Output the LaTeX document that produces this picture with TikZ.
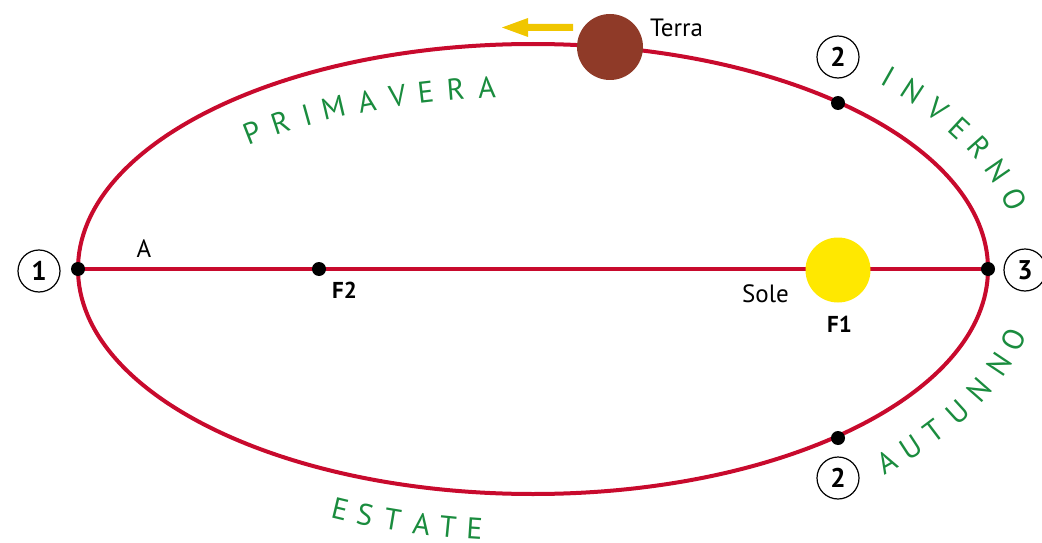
\documentclass[tikz,border=0pt]{standalone}
\usepackage{fontspec}
\setmainfont{PT Sans}
\definecolor{orbitred}{RGB}{200,10,45}
\definecolor{seasongreen}{RGB}{26,140,62}
\definecolor{earthbrown}{RGB}{143,58,40}
\definecolor{sunyellow}{RGB}{255,232,0}
\definecolor{arrowyellow}{RGB}{240,198,0}
\tikzset{
  orbit/.style={draw=orbitred, line width=4pt},
  orbitdot/.style={circle, fill=black, inner sep=0pt, minimum size=14pt},
  numc/.style={circle, draw=black, line width=1.2pt, minimum size=42pt, inner sep=0pt, font=\fontsize{27}{27}\selectfont\bfseries},
  season/.style={text=seasongreen, inner sep=0pt, font=\fontsize{30}{30}\selectfont},
  lbl/.style={inner sep=0pt, font=\fontsize{25}{25}\selectfont},
  blbl/.style={inner sep=0pt, font=\fontsize{23}{23}\selectfont\bfseries},
}
% #1 name, #2 A, #3 B, #4 sense (+1 ccw, -1 cw), #5 letter/t list
\newcommand\arcletters[5]{%
  \foreach \ch/\tpar [count=\i] in {#5} {%
    \pgfmathsetmacro\rot{atan2(#4*#3*cos(\tpar), -#4*#2*sin(\tpar))}%
    \node[season, rotate=\rot] (#1-\i) at ({533+#2*cos(\tpar)},{269-#3*sin(\tpar)}) {\ch};
  }%
}
\begin{document}
\begin{tikzpicture}[x=1pt, y=-1pt]
  \useasboundingbox (0,0) rectangle (1042,543);
  % orbit
  \draw[orbit] (533,269) ellipse [x radius=455pt, y radius=225pt];
  \coordinate (p1) at (78,269);
  \coordinate (p3) at (988,269);
  \draw[orbit] (p1) -- (p3);
  % sun and earth
  \node[circle, fill=sunyellow, minimum size=65pt, inner sep=0pt] (sole) at (838,270) {};
  \node[circle, fill=earthbrown, minimum size=66pt, inner sep=0pt] (terra) at (610,47) {};
  \fill[arrowyellow] (573,24) -- (528,24) -- (528,18) -- (502,27.5) -- (528,37) -- (528,31) -- (573,31) -- cycle;
  % dots
  \node[orbitdot] (d1) at (p1) {};
  \node[orbitdot] (f2) at (319,269) {};
  \node[orbitdot] (d3) at (p3) {};
  \node[orbitdot] (d2t) at (838,103) {};
  \node[orbitdot] (d2b) at (838,438) {};
  % circled numbers
  \node[numc] (n1) at (39,271) {1};
  \node[numc] (n3) at (1025,270) {3};
  \node[numc] (n2t) at (838,57) {2};
  \node[numc] (n2b) at (838,478) {2};
  % labels
  \node[lbl, anchor=base west] (terralbl) at (650,37) {Terra};
  \node[lbl, anchor=base west] (solelbl) at (742,302) {Sole};
  \node[lbl] (albl) at (144,248.5) {A};
  \node[blbl, anchor=base west] (f2lbl) at (332,298) {F2};
  \node[blbl, anchor=base west] (f1lbl) at (827,332) {F1};
  % seasons
  \arcletters{prim}{420}{183}{-1}{P/132.0, R/126.9, I/122.6, M/118.4, A/113.3, V/108.8, E/104.8, R/100.6, A/96.3}
  \arcletters{inv}{497}{275}{-1}{I/44.3, N/40.2, V/35.5, E/30.8, R/26.2, N/20.8, O/14.6}
  \arcletters{aut}{497}{275}{1}{A/-44.6, U/-40.5, T/-36.2, U/-31.3, N/-26.0, N/-20.3, O/-15.0}
  \arcletters{est}{480}{262}{1}{E/-113.7, S/-110.5, T/-107.0, A/-103.4, T/-100.2, E/-97.0}
\end{tikzpicture}
\end{document}
